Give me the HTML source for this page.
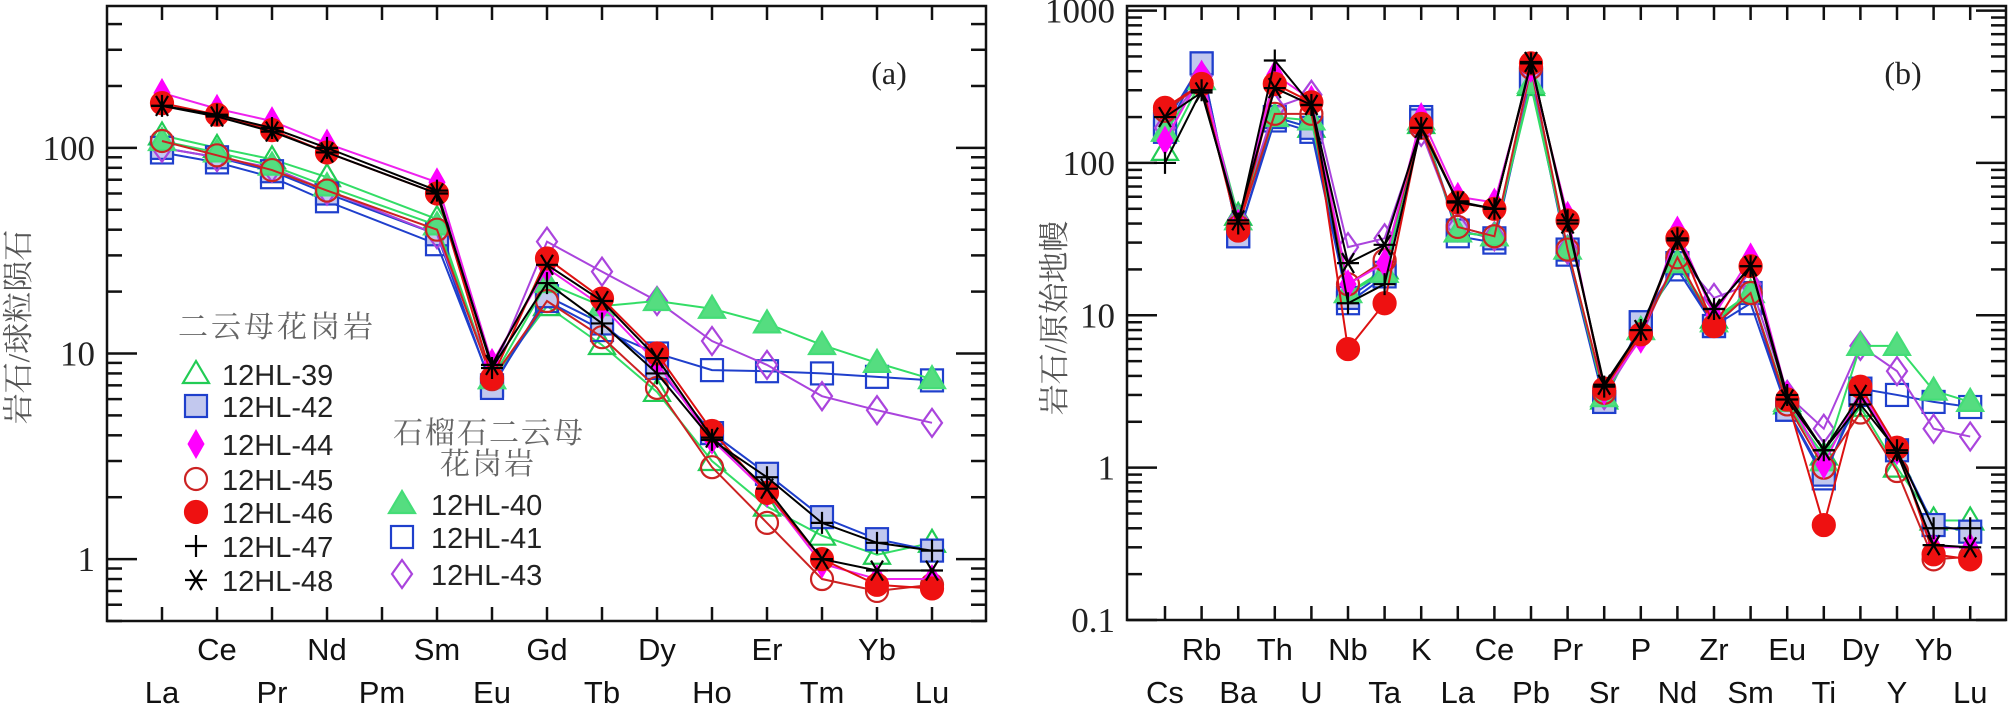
<!DOCTYPE html>
<html><head><meta charset="utf-8"><style>
html,body{margin:0;padding:0;background:#fff;}
svg{display:block;}
text{font-family:"Liberation Sans","Noto Sans CJK SC",sans-serif;}
.serif{font-family:"Liberation Serif","Noto Serif CJK SC",serif;}
</style></head><body>
<svg id="chart" width="2008" height="705" viewBox="0 0 2008 705" xmlns="http://www.w3.org/2000/svg">
<g id="pa"></g>
<g id="pb"></g>
</svg>
<script>
// ---------- Data ----------
const catsA = ["La","Ce","Pr","Nd","Pm","Sm","Eu","Gd","Tb","Dy","Ho","Er","Tm","Yb","Lu"];
const catsB = ["Cs","Rb","Ba","Th","U","Nb","Ta","K","La","Ce","Pb","Pr","Sr","P","Nd","Zr","Sm","Eu","Ti","Dy","Y","Yb","Lu"];
const ticksA = [1,10,100];
const ticksB = [0.1,1,10,100,1000];
const seriesNames = ["12HL-39","12HL-42","12HL-44","12HL-45","12HL-46","12HL-47","12HL-48","12HL-40","12HL-41","12HL-43"];
// Chart (a) values (Pm = null)
const a39 = [115,100,88,72,null,45,7.5,17,11,6.5,3.0,1.8,1.3,1.05,1.2];
const a42 = [100,90,77,60,null,38,6.8,19,14,8.5,4.1,2.6,1.6,1.25,1.1];
const a44 = [185,155,135,105,null,68,9,26,17,9,3.8,2.1,0.95,0.8,0.8];
const a45 = [108,92,78,62,null,40,7.5,18,12,6.8,2.8,1.5,0.8,0.7,0.75];
const a46 = [165,145,122,95,null,60,7.6,29,18.5,10,4.2,2.1,1.0,0.75,0.72];
const a47 = [160,145,125,100,null,62,8.5,22,14,8,3.8,2.5,1.5,1.2,1.1];
const a48 = [160,142,120,95,null,60,8.8,27,18,9.5,3.9,2.2,1.0,0.88,0.88];
const a40 = [108,95,82,65,null,42,7.5,22,17,18,16.5,14,11,9,7.5];
const a41 = [95,85,72,55,null,34,7,18,13,10,8.3,8.2,8,7.7,7.4];
const a43 = [100,90,80,62,null,38,8,35,25,18,11.5,8.8,6.2,5.3,4.6];
// Chart (b) values
const b39 = [120,350,45,200,170,14,20,180,35,33,320,27,2.8,8,22,9.5,14,2.6,1.2,2.5,1.0,0.45,0.45];
const b42 = [180,450,33,200,170,13,19,190,36,32,360,27,2.7,9,22,8.5,14,2.4,0.9,3.0,1.3,0.42,0.38];
const b44 = [140,380,40,380,260,16,22,200,60,55,420,45,3.2,7,36,10,24,3.0,1.05,3.2,1.3,0.3,0.3];
const b45 = [220,330,38,210,210,16,23,170,38,33,420,27,3.1,7.5,24,8.5,14,2.6,1.0,2.3,0.95,0.25,0.26];
const b46 = [230,330,36,330,250,6,12,180,55,50,450,42,3.3,7.5,32,8.5,21,2.8,0.42,3.4,1.35,0.27,0.25];
const b47 = [100,300,40,470,240,12,16,170,55,50,450,42,3.4,8,32,11,21,3.0,1.3,2.6,1.3,0.4,0.4];
const b48 = [200,290,42,310,240,22,29,170,56,50,460,40,3.5,8,31,11,21,2.8,1.3,3.0,1.25,0.31,0.3];
const b40 = [160,350,42,200,190,14,19,190,35,33,330,27,2.9,8,22,9,14,2.7,1.1,6.3,6.3,3.2,2.7];
const b41 = [160,450,33,190,160,12,18,200,33,30,350,25,2.7,9,20,8.5,12,2.4,0.85,3.3,3.0,2.7,2.5];
const b43 = [170,370,42,230,280,28,32,160,38,33,400,27,3.0,7.2,25,13,16,3.0,1.8,6.3,4.3,1.8,1.6];

const NS="http://www.w3.org/2000/svg";
function mk(tag,attrs,parent){const e=document.createElementNS(NS,tag);for(const k in attrs)e.setAttribute(k,attrs[k]);if(parent)parent.appendChild(e);return e;}

const styles = {
 "12HL-39":{line:"#33dd66",m:"tri",stroke:"#22cc55",fill:"none"},
 "12HL-42":{line:"#1f3fcc",m:"sq",stroke:"#1f3fcc",fill:"#c2c8ee"},
 "12HL-44":{line:"#ee22ee",m:"dia",stroke:"#ff00ff",fill:"#ff00ff"},
 "12HL-45":{line:"#cc2222",m:"circ",stroke:"#cc2222",fill:"none"},
 "12HL-46":{line:"#dd1111",m:"circ",stroke:"#ee1111",fill:"#ee1111"},
 "12HL-47":{line:"#000",m:"plus",stroke:"#000",fill:"none"},
 "12HL-48":{line:"#000",m:"star",stroke:"#000",fill:"none"},
 "12HL-40":{line:"#33dd66",m:"tri",stroke:"#44dd77",fill:"#55dd80"},
 "12HL-41":{line:"#1f3fcc",m:"sq",stroke:"#1f3fcc",fill:"none"},
 "12HL-43":{line:"#aa44dd",m:"odia",stroke:"#aa44dd",fill:"none"}
};

function marker(g,type,x,y,st,s){
 s=s||1;let e;
 const sw=2.2;
 if(type==="tri"){e=mk("polygon",{points:`${x},${y-13*s} ${x-13*s},${y+9*s} ${x+13*s},${y+9*s}`,fill:st.fill,stroke:st.stroke,"stroke-width":sw},g);}
 else if(type==="sq"){e=mk("rect",{x:x-11*s,y:y-11*s,width:22*s,height:22*s,fill:st.fill,stroke:st.stroke,"stroke-width":sw},g);}
 else if(type==="dia"){e=mk("polygon",{points:`${x},${y-14*s} ${x+8*s},${y} ${x},${y+14*s} ${x-8*s},${y}`,fill:st.fill,stroke:st.stroke,"stroke-width":1},g);}
 else if(type==="odia"){e=mk("polygon",{points:`${x},${y-14*s} ${x+10*s},${y} ${x},${y+14*s} ${x-10*s},${y}`,fill:"none",stroke:st.stroke,"stroke-width":sw},g);}
 else if(type==="circ"){e=mk("circle",{cx:x,cy:y,r:11*s,fill:st.fill,stroke:st.stroke,"stroke-width":sw},g);}
 else if(type==="plus"){e=mk("path",{d:`M${x-11*s},${y}H${x+11*s}M${x},${y-11*s}V${y+11*s}`,stroke:"#000","stroke-width":2.2,fill:"none"},g);}
 else if(type==="star"){e=mk("path",{d:`M${x-11*s},${y}H${x+11*s}M${x-6*s},${y-10*s}L${x+6*s},${y+10*s}M${x+6*s},${y-10*s}L${x-6*s},${y+10*s}`,stroke:"#000","stroke-width":2.2,fill:"none"},g);}
 return e;
}

function buildChart(g,cfg){
 const {left,right,top,bottom,cats,x0,dx,ymin,ymax,ticks,series}=cfg;
 const lmin=Math.log10(ymin),lmax=Math.log10(ymax);
 const X=i=>x0+i*dx;
 const Y=v=>bottom-(Math.log10(v)-lmin)/(lmax-lmin)*(bottom-top);
 const fr=mk("rect",{x:left,y:top,width:right-left,height:bottom-top,fill:"none",stroke:"#111","stroke-width":2.5},g);
 
 
 const yax=mk("g",{},g);
 
 
 const d0=Math.floor(lmin),d1=Math.ceil(lmax);
 for(let d=d0;d<=d1;d++){for(let m=1;m<10;m++){const v=m*Math.pow(10,d);if(v<ymin*0.999||v>ymax*1.001)continue;const y=Y(v);const len=m===1?30:15;
   mk("line",{x1:left,y1:y,x2:left+len,y2:y,stroke:"#111","stroke-width":2.5},yax);
   mk("line",{x1:right,y1:y,x2:right-len,y2:y,stroke:"#111","stroke-width":2.5},yax);}}
 ticks.forEach(v=>{const t=mk("text",{x:left-12,y:Y(v)+12,"text-anchor":"end","font-size":35,fill:"#222",class:"serif"},yax);t.textContent=String(v);
   
   });
 const xax=mk("g",{},g);
 
 
 cats.forEach((c,i)=>{const x=X(i);
   mk("line",{x1:x,y1:bottom,x2:x,y2:bottom-14,stroke:"#111","stroke-width":2.5},xax);
   mk("line",{x1:x,y1:top,x2:x,y2:top+14,stroke:"#111","stroke-width":2.5},xax);
   const t=mk("text",{x:x,y:i%2?660:703,"text-anchor":"middle","font-size":31,fill:"#111"},xax);t.textContent=c;
   
   });
 series.forEach(([name,vals])=>{const st=styles[name];const sg=mk("g",{},g);
   
   
   let d="";let pen=false;
   vals.forEach((v,i)=>{if(v==null)return;d+=(pen?"L":"M")+X(i)+","+Y(v);pen=true;});
   mk("path",{d:d,fill:"none",stroke:st.line,"stroke-width":2},sg);
   vals.forEach((v,i)=>{if(v==null)return;const m=marker(sg,st.m,X(i),Y(v),st);
     
     });
 });
}

const ordA=[["12HL-39",a39],["12HL-41",a41],["12HL-42",a42],["12HL-43",a43],["12HL-40",a40],["12HL-45",a45],["12HL-44",a44],["12HL-46",a46],["12HL-47",a47],["12HL-48",a48]];
const ordB=[["12HL-39",b39],["12HL-41",b41],["12HL-42",b42],["12HL-43",b43],["12HL-40",b40],["12HL-45",b45],["12HL-44",b44],["12HL-46",b46],["12HL-47",b47],["12HL-48",b48]];

const ga=document.getElementById("pa"), gb=document.getElementById("pb");
buildChart(ga,{left:107,right:986,top:6,bottom:621,cats:catsA,x0:162,dx:55,ymin:Math.pow(10,-0.301),ymax:Math.pow(10,2.69),ticks:ticksA,series:ordA});
buildChart(gb,{left:1127,right:2006,top:6,bottom:620,cats:catsB,x0:1165,dx:36.6,ymin:0.1,ymax:Math.pow(10,3.03),ticks:ticksB,series:ordB});

function txt(g,x,y,s,size,name,extra){const t=mk("text",Object.assign({x:x,y:y,"font-size":size,fill:"#222"},extra||{}),g);t.textContent=s;
 
 return t;}
txt(ga,889,84,"(a)",32,"panel-label-a",{"text-anchor":"middle",class:"serif"});
txt(gb,1903,84,"(b)",32,"panel-label-b",{"text-anchor":"middle",class:"serif"});
txt(ga,0,0,"岩石/球粒陨石",31,"y-axis-title-a",{"text-anchor":"middle",transform:"translate(29,327) rotate(-90)",fill:"#555",class:"serif"});
txt(gb,0,0,"岩石/原始地幔",31,"y-axis-title-b",{"text-anchor":"middle",transform:"translate(1065,318) rotate(-90)",fill:"#555",class:"serif"});

const lg=mk("g",{},ga);


txt(lg,178,337,"二云母花岗岩",30,"legend-group-title",{fill:"#666",class:"serif","letter-spacing":"3"});
txt(lg,393,443,"石榴石二云母",30,"legend-group-title",{fill:"#666",class:"serif","letter-spacing":"2"});
txt(lg,440,474,"花岗岩",30,"legend-group-title",{fill:"#666",class:"serif","letter-spacing":"2"});
const leg1=["12HL-39","12HL-42","12HL-44","12HL-45","12HL-46","12HL-47","12HL-48"];
const leg1y=[374,406,444,479,512,546,580];
leg1.forEach((n,i)=>{const eg=mk("g",{},lg);
 
 
 marker(eg,styles[n].m,196,leg1y[i],styles[n]);
 txt(eg,222,leg1y[i]+11,n,29,"legend-label");});
const leg2=["12HL-40","12HL-41","12HL-43"];
const leg2y=[504,537,574];
leg2.forEach((n,i)=>{const eg=mk("g",{},lg);
 
 
 marker(eg,styles[n].m,402,leg2y[i],styles[n]);
 txt(eg,431,leg2y[i]+11,n,29,"legend-label");});
</script>
</body></html>
